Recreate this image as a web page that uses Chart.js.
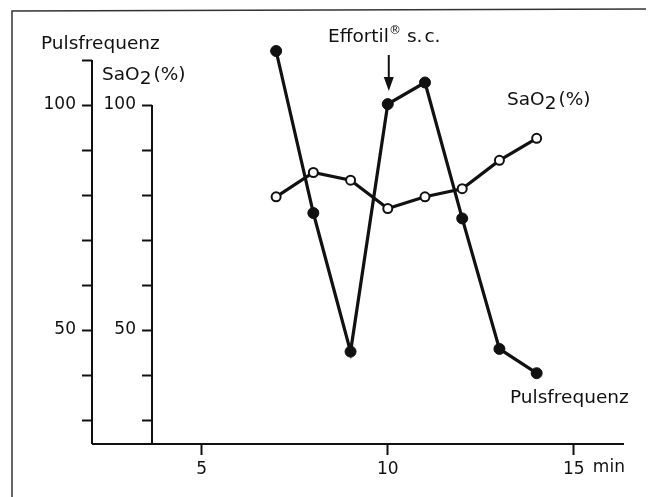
<!DOCTYPE html>
<html>
<head>
<meta charset="utf-8">
<script src="https://cdn.jsdelivr.net/npm/chart.js@4/dist/chart.umd.min.js"></script>
<style>
    html, body { margin: 0; padding: 0; background: #fff; }
    #wrap { width: 648px; height: 497px; }
</style>
</head>
<body>
<div id="wrap"><canvas id="chart" width="648" height="497"></canvas></div>
<script>
const minutes = [7, 8, 9, 10, 11, 12, 13, 14];
const pulsValues = [112, 76, 45.2, 100.2, 105, 74.8, 45.8, 40.4];
const saoValues = [79.6, 85, 83.3, 77, 79.6, 81.4, 87.7, 92.6];
const xTickLabels = {5: '5', 10: '10', 15: '15'};
const yTickLabels = {100: '100', 50: '50'};
const pulsAxisTop = 110;
const saoAxisTop = 100;
const injectionMinute = 10;

const ink = '#111';
const font = 'DejaVu Sans';

// text with a lowered or raised part, e.g. SaO2
function drawParts(ctx, x, y, parts) {
    parts.forEach(p => {
        ctx.font = (p.size || 18.5) + 'px "' + font + '"';
        x += p.gap || 0;
        ctx.fillText(p.t, x, y + (p.dy || 0));
        x += ctx.measureText(p.t).width;
    });
}

const decorations = {
    id: 'decorations',
    beforeDraw(chart) {
        const ctx = chart.ctx;
        ctx.save();
        ctx.strokeStyle = '#333';
        ctx.lineWidth = 1.5;
        ctx.beginPath();
        ctx.moveTo(12, 497);
        ctx.lineTo(12, 11);
        ctx.lineTo(646, 9);
        ctx.stroke();
        ctx.restore();
    },
    afterDraw(chart) {
        const ctx = chart.ctx;
        const xs = chart.scales.x, yp = chart.scales.y, ys = chart.scales.y2;
        const area = chart.chartArea;
        ctx.save();
        ctx.strokeStyle = ink;
        ctx.lineWidth = 2;
        // x axis continues to the Pulsfrequenz axis
        ctx.beginPath();
        ctx.moveTo(yp.right, area.bottom);
        ctx.lineTo(area.left, area.bottom);
        ctx.stroke();
        // both value axes stop at their top tick
        ctx.beginPath();
        ctx.moveTo(yp.right, yp.getPixelForValue(pulsAxisTop));
        ctx.lineTo(yp.right, area.bottom);
        ctx.moveTo(ys.right, ys.getPixelForValue(saoAxisTop));
        ctx.lineTo(ys.right, area.bottom);
        ctx.stroke();

        ctx.fillStyle = ink;
        ctx.textBaseline = 'middle';
        ctx.textAlign = 'left';
        drawParts(ctx, 41, 44, [{t: 'Pulsfrequenz'}]);
        drawParts(ctx, 102, 75, [{t: 'SaO'}, {t: '2', dy: 4}, {t: '(%)', gap: 2}]);
        drawParts(ctx, 328, 37, [{t: 'Effortil'}, {t: '®', size: 12, dy: -6}, {t: 's.', gap: 6}, {t: 'c.', gap: 2}]);
        drawParts(ctx, 507, 100, [{t: 'SaO'}, {t: '2', dy: 4}, {t: '(%)', gap: 2}]);
        drawParts(ctx, 510, 398, [{t: 'Pulsfrequenz'}]);
        drawParts(ctx, xs.getPixelForValue(15) + 19, 468, [{t: 'min', size: 17}]);

        // arrow for the injection
        const ax = xs.getPixelForValue(injectionMinute) + 1;
        ctx.beginPath();
        ctx.moveTo(ax, 55);
        ctx.lineTo(ax, 82);
        ctx.stroke();
        ctx.beginPath();
        ctx.moveTo(ax - 5, 77);
        ctx.lineTo(ax + 5, 77);
        ctx.lineTo(ax, 91);
        ctx.closePath();
        ctx.fill();
        ctx.restore();
    }
};

const tickFont = {family: font, size: 17};
const leftGrid = {drawOnChartArea: false, tickLength: 10, tickColor: ink, tickWidth: 2};

new Chart(document.getElementById('chart'), {
    type: 'line',
    data: {
        datasets: [
            {
                label: 'Pulsfrequenz',
                data: minutes.map((m, i) => ({x: m, y: pulsValues[i]})),
                yAxisID: 'y',
                clip: false,
                borderColor: ink,
                borderWidth: 3.2,
                pointRadius: 5.5,
                pointBackgroundColor: ink,
                pointBorderColor: ink,
                pointBorderWidth: 1,
                tension: 0
            },
            {
                label: 'SaO2 (%)',
                data: minutes.map((m, i) => ({x: m, y: saoValues[i]})),
                yAxisID: 'y2',
                clip: false,
                borderColor: ink,
                borderWidth: 3.2,
                pointRadius: 4.5,
                pointBackgroundColor: '#fff',
                pointBorderColor: ink,
                pointBorderWidth: 2,
                tension: 0
            }
        ]
    },
    options: {
        responsive: false,
        animation: false,
        layout: {padding: {top: 42, right: 25, left: 0, bottom: 0}},
        plugins: {
            legend: {display: false},
            tooltip: {enabled: false}
        },
        scales: {
            x: {
                type: 'linear',
                min: 3.665,
                max: 16.32,
                afterFit: s => { s.height = 53; },
                border: {display: true, color: ink, width: 2},
                grid: {drawOnChartArea: false, tickLength: 11, tickColor: ink, tickWidth: 2},
                ticks: {
                    stepSize: 5,
                    includeBounds: false,
                    maxRotation: 0,
                    padding: 4,
                    color: ink,
                    font: tickFont,
                    callback: v => xTickLabels[v] || ''
                }
            },
            y: {
                position: 'left',
                weight: 1,
                min: 24.67,
                max: 114,
                afterFit: s => { s.width = 92; },
                afterBuildTicks: s => { s.ticks = s.ticks.filter(t => t.value <= pulsAxisTop); },
                border: {display: false},
                grid: leftGrid,
                ticks: {
                    stepSize: 10,
                    includeBounds: false,
                    padding: 6,
                    color: ink,
                    font: tickFont,
                    callback: v => yTickLabels[v] || ''
                }
            },
            y2: {
                position: 'left',
                weight: 0,
                min: 24.67,
                max: 114,
                afterFit: s => { s.width = 60; },
                afterBuildTicks: s => { s.ticks = s.ticks.filter(t => t.value <= saoAxisTop); },
                border: {display: false},
                grid: leftGrid,
                ticks: {
                    stepSize: 10,
                    includeBounds: false,
                    padding: 6,
                    color: ink,
                    font: tickFont,
                    callback: v => yTickLabels[v] || ''
                }
            }
        }
    },
    plugins: [decorations]
});
</script>
</body>
</html>
